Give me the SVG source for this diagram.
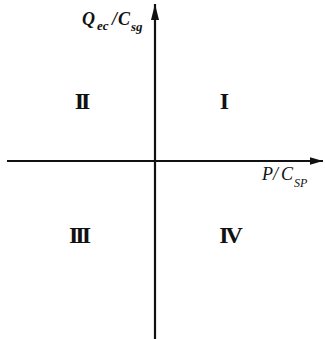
<svg xmlns="http://www.w3.org/2000/svg" width="325" height="339" viewBox="0 0 325 339">
<style>
.ax{stroke:#111;stroke-width:2.2;fill:none}
.rn{font-family:"Liberation Serif",serif;font-weight:bold;font-size:24px;fill:#111;text-anchor:middle}
.lb{font-family:"Liberation Serif",serif;font-style:italic;fill:#111}
</style>
<defs>
<marker id="ah" markerUnits="userSpaceOnUse" markerWidth="16" markerHeight="10" refX="13" refY="5" orient="auto">
<path d="M0,1.2 L13,5 L0,8.8 Z" fill="#111"/>
</marker>
<marker id="ahv" markerUnits="userSpaceOnUse" markerWidth="18" markerHeight="10" refX="16" refY="5" orient="auto">
<path d="M0,1 L16,5 L0,9 Z" fill="#111"/>
</marker>
</defs>
<rect width="325" height="339" fill="#fff"/>
<g id="connectors">
<line class="ax" x1="7" y1="161" x2="323" y2="161" marker-end="url(#ah)"/>
<line class="ax" x1="155" y1="339" x2="155" y2="4" marker-end="url(#ahv)"/>
</g>
<g id="y-label">
<text class="lb" font-weight="bold" font-size="18"><tspan x="82" y="25">Q</tspan><tspan x="97" y="30" font-size="13">ec</tspan><tspan x="112" y="25">/</tspan><tspan x="118" y="25">C</tspan><tspan x="131" y="31" font-size="13">sg</tspan></text>
</g>
<g id="x-label">
<text class="lb" font-size="18"><tspan x="262" y="180">P</tspan><tspan x="273" y="180">/</tspan><tspan x="281" y="180">C</tspan><tspan x="294" y="187" font-size="12">SP</tspan></text>
</g>
<g id="q1"><text class="rn" x="224.5" y="109">I</text></g>
<g id="q2"><text class="rn" x="81" y="109" letter-spacing="-3">II</text></g>
<g id="q3"><text class="rn" x="78.5" y="243" letter-spacing="-3">III</text></g>
<g id="q4"><text class="rn" x="229.5" y="243" letter-spacing="-3">IV</text></g>
</svg>
